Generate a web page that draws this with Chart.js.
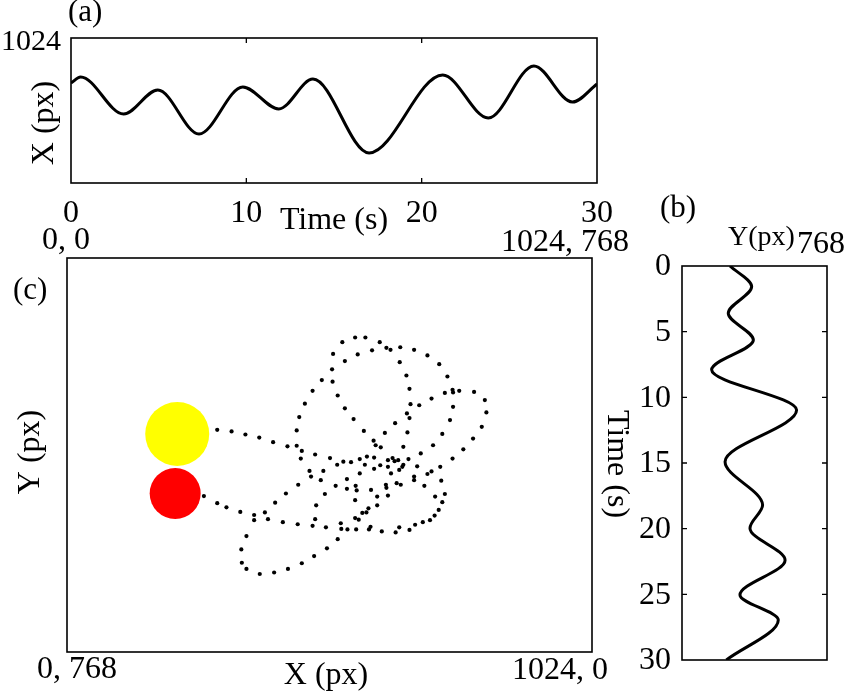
<!DOCTYPE html>
<html>
<head>
<meta charset="utf-8">
<title>Trajectory</title>
<script src="https://cdn.jsdelivr.net/npm/chart.js@4.4.1/dist/chart.umd.min.js"></script>
<style>
  html, body { margin: 0; padding: 0; background: #fff; }
  #wrap { position: relative; width: 850px; height: 692px; background: #fff; }
  #wrap canvas { position: absolute; left: 0; top: 0; }
</style>
</head>
<body>
<div id="wrap">
  <canvas id="chartA" width="850" height="692"></canvas>
  <canvas id="chartB" width="850" height="692"></canvas>
  <canvas id="chartC" width="850" height="692"></canvas>
</div>
<script>
const FONT = '"Liberation Serif", "Times New Roman", serif';

// ========== DATA ==========
// (a) X position against time, read at the turning points
const timeA = [0, 0.55, 3.0, 4.95, 7.3, 9.8, 11.85, 13.8, 17.0, 21.2, 23.8, 26.4, 28.6, 30];
const xPx = [706, 749, 487, 657, 346, 678, 523, 734, 212, 763, 459, 826, 572, 699];
const timeTicksA = [0, 10, 20, 30];

// (b) Y position against time
const timeB = [0, 1.57, 3.6, 5.64, 7.9, 10.97, 14.9, 18.2, 19.96, 22.4, 25.05, 26.95, 30];
const yPx = [254, 369, 245, 378, 157, 607, 228, 427, 360, 546, 307, 510, 235];
const timeTicksB = [0, 5, 10, 15, 20, 25, 30];

// (c) tracked points in the image plane
const pathX = [537, 562, 582, 610, 623, 631, 650, 677, 703, 726, 742, 519, 567, 595, 649, 542,
  517, 497, 518, 479, 528, 662, 668, 464, 453, 448, 542, 559, 579, 598, 602, 612,
  670, 687, 711, 737, 752, 753, 765, 794, 815, 818, 809, 792, 773, 752, 663, 668,
  640, 664, 620, 753, 747, 732, 714, 690, 656, 293, 321, 348, 375, 402, 430, 448,
  458, 456, 484, 473, 476, 500, 495, 513, 527, 539, 554, 571, 585, 599, 611, 599,
  571, 581, 626, 635, 639, 646, 656, 654, 648, 632, 626, 643, 651, 666, 683, 677,
  677, 703, 711, 728, 730, 697, 737, 718, 732, 725, 717, 708, 694, 679, 668, 648,
  641, 614, 592, 589, 564, 547, 535, 534, 528, 507, 482, 458, 431, 404, 376, 350,
  341, 340, 350, 365, 365, 386, 392, 406, 427, 421, 450, 479, 484, 505, 503, 486,
  524, 546, 546, 565, 563, 562, 562, 569, 576, 584, 588, 605, 593, 605, 622, 623,
  626, 451, 267, 293, 311, 338];
const pathY = [164, 155, 155, 164, 175, 179, 174, 179, 190, 207, 231, 187, 188, 180, 203, 201,
  217, 238, 241, 259, 268, 229, 255, 284, 310, 336, 293, 314, 337, 356, 365, 369,
  285, 287, 274, 263, 257, 262, 259, 261, 277, 301, 329, 352, 373, 391, 303, 312,
  322, 340, 341, 290, 316, 343, 365, 381, 368, 335, 338, 344, 350, 359, 367, 366,
  376, 391, 383, 415, 426, 415, 433, 390, 403, 397, 398, 392, 387, 389, 404, 411,
  420, 403, 394, 390, 396, 394, 403, 407, 413, 420, 407, 439, 442, 392, 406, 426,
  433, 421, 416, 407, 434, 444, 460, 465, 476, 491, 502, 511, 515, 520, 530, 525,
  535, 533, 524, 529, 529, 529, 528, 517, 548, 566, 581, 595, 606, 613, 616, 606,
  594, 568, 542, 511, 501, 496, 509, 477, 459, 515, 519, 522, 509, 525, 460, 482,
  444, 431, 450, 453, 444, 472, 507, 510, 497, 496, 488, 482, 452, 465, 442, 448,
  463, 442, 464, 478, 486, 495];
const headTop = [{ x: 215, y: 343 }];
const headBottom = [{ x: 211, y: 459 }];

// ========== FRAME PLUGIN ==========
// box, inward tick marks and all the lettering of one panel
function makeFrame(cfg) {
  return {
    id: 'frame',
    afterDatasetsDraw(chart) {
      const { ctx, chartArea: a, scales } = chart;
      ctx.save();
      ctx.strokeStyle = '#000';
      ctx.lineWidth = 1.6;
      ctx.strokeRect(a.left, a.top, a.right - a.left, a.bottom - a.top);

      ctx.lineWidth = 1.3;
      ctx.beginPath();
      (cfg.xMarks || []).forEach(v => {
        const px = scales.x.getPixelForValue(v);
        ctx.moveTo(px, a.top); ctx.lineTo(px, a.top + 5);
        ctx.moveTo(px, a.bottom); ctx.lineTo(px, a.bottom - 5);
      });
      (cfg.yMarks || []).forEach(v => {
        const py = scales.y.getPixelForValue(v);
        ctx.moveTo(a.left, py); ctx.lineTo(a.left + 5, py);
        ctx.moveTo(a.right, py); ctx.lineTo(a.right - 5, py);
      });
      ctx.stroke();

      ctx.fillStyle = '#000';
      if (cfg.xLabels) {
        ctx.font = cfg.xLabels.size + 'px ' + FONT;
        ctx.textAlign = 'center';
        ctx.textBaseline = 'alphabetic';
        cfg.xLabels.values.forEach(v => {
          ctx.fillText(String(v), scales.x.getPixelForValue(v), cfg.xLabels.y);
        });
      }
      if (cfg.yLabels) {
        ctx.font = cfg.yLabels.size + 'px ' + FONT;
        ctx.textAlign = 'right';
        ctx.textBaseline = 'middle';
        cfg.yLabels.values.forEach(v => {
          ctx.fillText(String(v), cfg.yLabels.x, scales.y.getPixelForValue(v) + 1);
        });
      }
      (cfg.texts || []).forEach(t => {
        ctx.save();
        ctx.font = (t.size || 32) + 'px ' + FONT;
        ctx.textAlign = t.align || 'left';
        ctx.textBaseline = t.base || 'alphabetic';
        ctx.translate(t.x, t.y);
        if (t.rot) ctx.rotate(t.rot * Math.PI / 180);
        ctx.fillText(t.text, 0, 0);
        ctx.restore();
      });
      ctx.restore();
    }
  };
}

const common = {
  responsive: false,
  animation: false,
  events: [],
  plugins: { legend: { display: false }, tooltip: { enabled: false } }
};

// ========== (a) ==========
new Chart(document.getElementById('chartA'), {
  type: 'line',
  data: {
    datasets: [{
      data: timeA.map((t, i) => ({ x: t, y: xPx[i] })),
      borderColor: '#000',
      borderWidth: 3,
      pointRadius: 0,
      cubicInterpolationMode: 'monotone',
      fill: false
    }]
  },
  options: {
    ...common,
    layout: { padding: { left: 71, top: 38, right: 253, bottom: 509 } },
    scales: {
      x: { type: 'linear', display: false, min: 0, max: 30 },
      y: { type: 'linear', display: false, min: 0, max: 1024 }
    }
  },
  plugins: [makeFrame({
    xMarks: [10, 20],
    xLabels: { values: timeTicksA, y: 222, size: 32 },
    texts: [
      { text: '(a)', x: 68, y: 21, size: 31 },
      { text: '1024', x: 61, y: 50, size: 30, align: 'right' },
      { text: 'X (px)', x: 45, y: 123, rot: -90, align: 'center', base: 'middle' },
      { text: 'Time (s)', x: 334, y: 229, align: 'center' }
    ]
  })]
});

// ========== (b) ==========
new Chart(document.getElementById('chartB'), {
  type: 'line',
  data: {
    datasets: [{
      data: timeB.map((t, i) => ({ x: yPx[i], y: t })),
      borderColor: '#000',
      borderWidth: 3,
      pointRadius: 0,
      cubicInterpolationMode: 'monotone',
      fill: false
    }]
  },
  options: {
    ...common,
    indexAxis: 'y',
    layout: { padding: { left: 682, top: 266, right: 23, bottom: 32 } },
    scales: {
      x: { type: 'linear', display: false, min: 0, max: 768 },
      y: { type: 'linear', display: false, min: 0, max: 30, reverse: true }
    }
  },
  plugins: [makeFrame({
    yMarks: [5, 10, 15, 20, 25],
    yLabels: { values: timeTicksB, x: 671, size: 32 },
    texts: [
      { text: '(b)', x: 660, y: 217, size: 31 },
      { text: 'Y(px)', x: 728, y: 245, size: 28 },
      { text: '768', x: 797, y: 253, size: 32 },
      { text: 'Time (s)', x: 616, y: 464, rot: 90, align: 'center', base: 'middle' }
    ]
  })]
});

// ========== (c) ==========
new Chart(document.getElementById('chartC'), {
  type: 'scatter',
  data: {
    datasets: [
      {
        data: pathX.map((x, i) => ({ x: x, y: pathY[i] })),
        backgroundColor: '#000',
        borderWidth: 0,
        pointRadius: 2.1
      },
      {
        data: headBottom,
        backgroundColor: '#ff0000',
        borderWidth: 0,
        pointRadius: 25.5
      },
      {
        data: headTop,
        backgroundColor: '#ffff00',
        borderWidth: 0,
        pointRadius: 32
      }
    ]
  },
  options: {
    ...common,
    layout: { padding: { left: 67, top: 258, right: 258, bottom: 40 } },
    scales: {
      x: { type: 'linear', display: false, min: 0, max: 1024 },
      y: { type: 'linear', display: false, min: 0, max: 768, reverse: true }
    }
  },
  plugins: [makeFrame({
    texts: [
      { text: '0, 0', x: 42, y: 249 },
      { text: '1024, 768', x: 629, y: 251, align: 'right' },
      { text: '(c)', x: 13, y: 299, size: 31 },
      { text: 'Y (px)', x: 31, y: 452, rot: -90, align: 'center', base: 'middle' },
      { text: '0, 768', x: 37, y: 678 },
      { text: 'X (px)', x: 326, y: 684, align: 'center' },
      { text: '1024, 0', x: 512, y: 679 }
    ]
  })]
});
</script>
</body>
</html>
